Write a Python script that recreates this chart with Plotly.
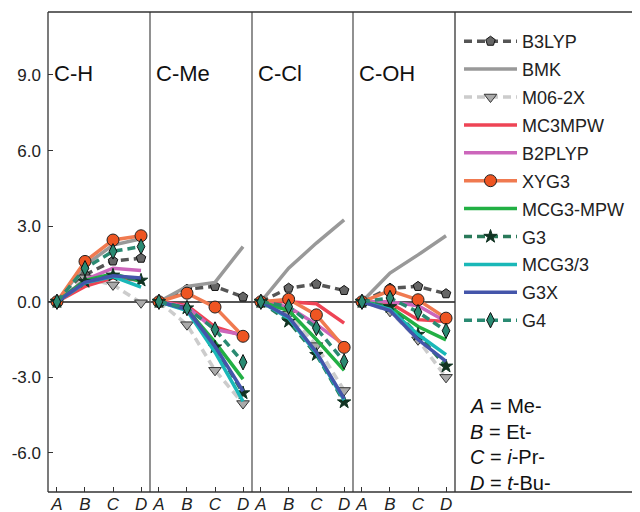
import plotly.graph_objects as go

panels = ["C-H", "C-Me", "C-Cl", "C-OH"]
categories = ["A", "B", "C", "D"]
ytick_vals = [-6, -3, 0, 3, 6, 9]
ytick_text = ["-6.0", "-3.0", "0.0", "3.0", "6.0", "9.0"]
key_lines = ["<i>A</i> = Me-", "<i>B</i> = Et-", "<i>C</i> = <i>i</i>-Pr-", "<i>D</i> = <i>t</i>-Bu-"]

# values per panel: C-H, C-Me, C-Cl, C-OH
B3LYP = [[0, 1.07, 1.62, 1.73], [0, 0.50, 0.61, 0.19], [0, 0.54, 0.70, 0.45], [0, 0.54, 0.61, 0.32]]
BMK = [[0, 1.45, 2.25, 2.50], [0, 0.61, 0.77, 2.19], [0, 1.33, 2.33, 3.25], [0, 1.14, 1.86, 2.62]]
M062X = [[0, 0.95, 0.67, -0.04], [0, -0.91, -2.72, -4.04], [0, -0.50, -1.74, -3.52], [0, -0.38, -1.51, -3.00]]
MC3MPW = [[0, 0.61, 0.95, 0.85], [0, -0.15, -1.00, -1.35], [0, 0.00, -0.08, -0.85], [0, -0.05, -0.71, -0.78]]
B2PLYP = [[0, 0.87, 1.33, 1.24], [0, -0.20, -1.11, -1.31], [0, -0.20, -0.90, -1.70], [0, 0.00, -0.16, -0.78]]
XYG3 = [[0, 1.60, 2.45, 2.62], [0, 0.34, -0.21, -1.37], [0, 0.10, -0.52, -1.81], [0, 0.44, 0.08, -0.65]]
MCG3MPW = [[0, 0.85, 1.11, 0.81], [0, -0.30, -1.60, -3.07], [0, -0.35, -1.50, -2.72], [0, -0.20, -0.98, -1.51]]
G3 = [[0, 0.80, 1.05, 0.85], [0, -0.25, -1.80, -3.62], [0, -0.78, -2.10, -3.98], [0, -0.20, -1.30, -2.56]]
MCG33 = [[0, 0.75, 1.00, 0.58], [0, -0.35, -2.00, -3.95], [0, -0.65, -2.05, -3.90], [0, -0.30, -1.30, -2.10]]
G3X = [[0, 0.77, 1.03, 0.94], [0, -0.30, -1.77, -3.55], [0, -0.60, -2.00, -3.85], [0, -0.35, -1.50, -2.37]]
G4 = [[0, 1.33, 2.00, 2.19], [0, -0.25, -1.10, -2.40], [0, -0.19, -1.04, -2.37], [0, 0.15, -0.41, -1.15]]

LW = 3.5
DASH = "8px,5px"
methods = [
    ("B3LYP", B3LYP, dict(color="#555555", width=LW, dash=DASH), dict(symbol="pentagon", size=10, color="#666666", line=dict(color="#111111", width=1))),
    ("BMK", BMK, dict(color="#999999", width=LW), None),
    ("M06-2X", M062X, dict(color="#cccccc", width=LW, dash=DASH), dict(symbol="triangle-down", size=11, color="#aaaaaa", line=dict(color="#333333", width=1))),
    ("MC3MPW", MC3MPW, dict(color="#ee4455", width=LW), None),
    ("B2PLYP", B2PLYP, dict(color="#cc66bb", width=LW), None),
    ("XYG3", XYG3, dict(color="#f07a50", width=LW), dict(symbol="circle", size=12, color="#ee5522", line=dict(color="#222222", width=1))),
    ("MCG3-MPW", MCG3MPW, dict(color="#22b044", width=LW), None),
    ("G3", G3, dict(color="#2a7a5a", width=LW, dash=DASH), dict(symbol="star", size=10, color="#113322", line=dict(color="#113322", width=1))),
    ("MCG3/3", MCG33, dict(color="#1ab8b8", width=LW), None),
    ("G3X", G3X, dict(color="#4455aa", width=LW), None),
    ("G4", G4, dict(color="#2a8a72", width=LW, dash=DASH), dict(symbol="diamond-tall", size=11, color="#2a8a72", line=dict(color="#111111", width=1))),
]

fig = go.Figure()

# page body has an 8px margin, so the figure is laid out 8px up/left of window coords
OFF = 8
L, R, T, B = 48 - OFF, OFF, 12 - OFF, 512 - (492 - OFF)
bounds_px = [48, 150, 252, 353, 455]
doms = [((bounds_px[i] - 48) / (640 - 48), (bounds_px[i + 1] - 48) / (640 - 48)) for i in range(4)]


def py(win_y):
    return (492 - win_y) / (492 - 12)


def px(win_x):
    return (win_x - 48) / (640 - 48)


for p in range(4):
    xa = "x" if p == 0 else f"x{p + 1}"
    for rank, (name, data, line, marker) in enumerate(methods):
        fig.add_trace(go.Scatter(
            x=categories, y=data[p], xaxis=xa, yaxis="y",
            mode="lines+markers" if marker else "lines",
            line=line, marker=marker,
            name=name, legendgroup=name, showlegend=(p == 0), legendrank=rank + 1,
        ))

font_family = "Liberation Sans, Arial"
for p in range(4):
    key = "xaxis" if p == 0 else f"xaxis{p + 1}"
    fig.layout[key] = dict(
        domain=list(doms[p]), anchor="y", type="category",
        categoryorder="array", categoryarray=categories,
        range=[-0.32, 3.32], tickvals=categories,
        ticktext=[f"<i>{c}</i>" for c in categories],
        ticks="inside", ticklen=5, tickcolor="#333", showgrid=False,
        showline=False, zeroline=False, automargin=False, ticklabelstandoff=0,
        tickfont=dict(family=font_family, size=17, color="#222"),
    )
    fig.add_annotation(x=0.035, xref=("x" if p == 0 else f"x{p + 1}") + " domain", y=9.05, yref="y",
                       text=panels[p], showarrow=False, xanchor="left", yanchor="middle",
                       font=dict(family=font_family, size=22, color="#111"))

fig.update_layout(
    yaxis=dict(domain=[0, 1], range=[-7.55, 11.5], tickvals=ytick_vals, ticktext=ytick_text,
               ticks="inside", ticklen=5, tickcolor="#333", showgrid=False,
               zeroline=True, zerolinecolor="#555", zerolinewidth=1.5,
               showline=False, automargin=False, ticklabelstandoff=6,
               tickfont=dict(family=font_family, size=17, color="#222")),
    width=640, height=512,
    margin=dict(l=L, r=R, t=T, b=B, autoexpand=False),
    plot_bgcolor="white", paper_bgcolor="white",
    showlegend=True,
    legend=dict(x=px(459), y=py(23), xanchor="left", yanchor="top",
                font=dict(family=font_family, size=18, color="#222"),
                traceorder="grouped", tracegroupgap=1.5, bgcolor="rgba(0,0,0,0)", itemwidth=53),
)

# frame and panel separators
for xp in [0] + [d[1] for d in doms]:
    fig.add_shape(type="line", xref="paper", yref="paper", x0=xp, x1=xp, y0=0, y1=1,
                  line=dict(color="#333" if xp in (0, doms[3][1]) else "#555", width=1.3))
fig.add_shape(type="line", xref="paper", yref="paper", x0=0, x1=1, y0=1, y1=1, line=dict(color="#333", width=1.3))
fig.add_shape(type="line", xref="paper", yref="paper", x0=0, x1=1, y0=0, y1=0, line=dict(color="#333", width=1.3))

for i, t in enumerate(key_lines):
    fig.add_annotation(x=px(468), xref="paper", y=py(406 + 25.7 * i), yref="paper",
                       text=t, showarrow=False, xanchor="left", yanchor="middle",
                       font=dict(family=font_family, size=20, color="#111"))

fig.write_html("out.html")
